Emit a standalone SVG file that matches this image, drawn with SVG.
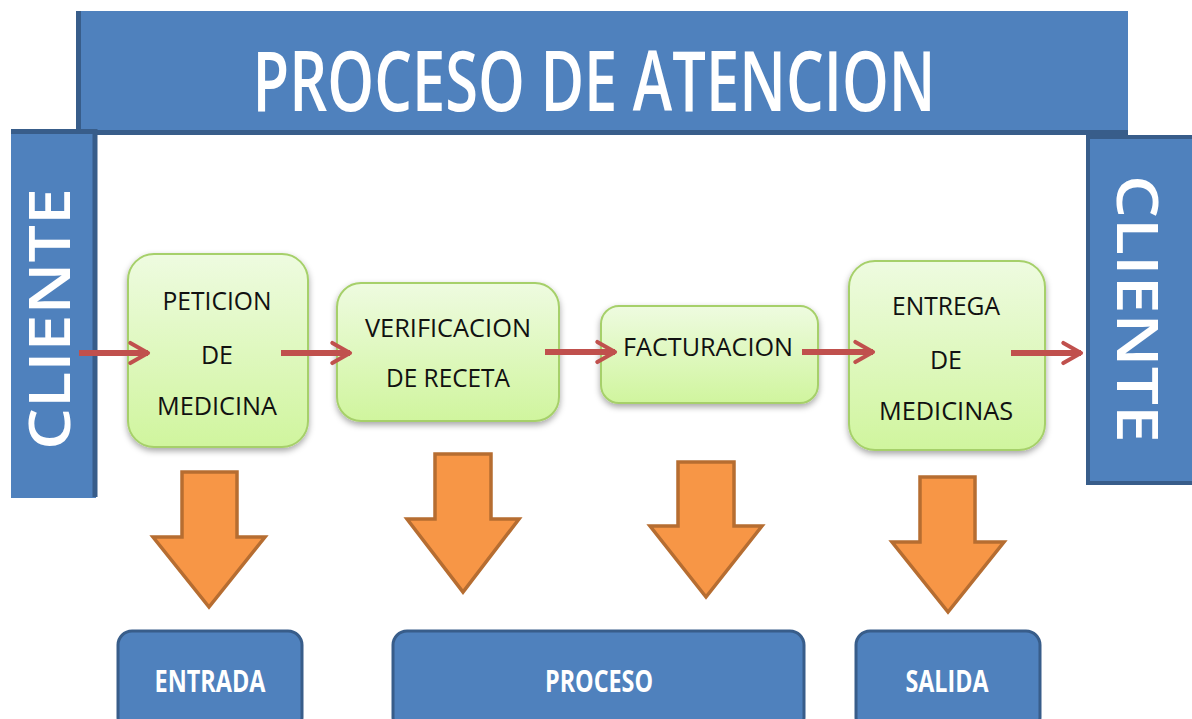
<svg xmlns="http://www.w3.org/2000/svg" width="1192" height="719" viewBox="0 0 1192 719">
<defs>
<linearGradient id="gg" x1="0" y1="0" x2="0" y2="1">
<stop offset="0" stop-color="#EEFBE0"/>
<stop offset="1" stop-color="#D0F59E"/>
</linearGradient>
<filter id="sh" x="-20%" y="-20%" width="140%" height="140%">
<feDropShadow dx="0" dy="3" stdDeviation="3" flood-color="#000" flood-opacity="0.35"/>
</filter>
<marker id="ah" viewBox="0 0 10 10" refX="8" refY="5" markerWidth="4.2" markerHeight="4.8" orient="auto" markerUnits="strokeWidth">
<path d="M1,1 L8,5 L1,9" fill="none" stroke="#C0504D" stroke-width="1.6" stroke-linecap="round" stroke-linejoin="round"/>
</marker>
</defs>
<style>
.blue{fill:#4F81BD;stroke:#385D8A;stroke-width:3}
.green{fill:url(#gg);stroke:#A6D06A;stroke-width:2;filter:url(#sh)}
.orange{fill:#F79646;stroke:#B66D31;stroke-width:3.5;stroke-linejoin:miter}
.red{stroke:#C0504D;stroke-width:6;fill:none;marker-end:url(#ah)}
.wt{fill:#fff;font-family:"Open Sans","Noto Sans",sans-serif}
.bt{fill:#fff;font-family:"Open Sans","Noto Sans",sans-serif;font-weight:bold;font-size:30px;text-anchor:middle}
.gt{fill:#111;font-family:"Open Sans","Noto Sans",sans-serif;font-size:25px;text-anchor:middle}
</style>
<rect width="1192" height="719" fill="#fff"/>

<g id="title">
<rect x="77" y="11" width="1051" height="123" fill="#4F81BD"/>
<path d="M78.5,11 V132.5 H1128" fill="none" stroke="#385D8A" stroke-width="5"/>
<text class="wt" transform="translate(594,111) scale(1,1.4)" x="0" y="0" font-size="60" font-weight="600" text-anchor="middle" textLength="683" lengthAdjust="spacingAndGlyphs">PROCESO DE ATENCION</text>
</g>

<g id="cliente-left">
<rect x="11" y="132" width="85" height="366" fill="#4F81BD"/>
<path d="M11,131.5 H95 V497" fill="none" stroke="#385D8A" stroke-width="5"/>
<text class="wt" transform="translate(70,319) rotate(-90)" x="0" y="0" font-size="58" font-weight="600" text-anchor="middle" textLength="262" lengthAdjust="spacingAndGlyphs">CLIENTE</text>
</g>

<g id="cliente-right">
<rect x="1088" y="137" width="110" height="346" fill="#4F81BD" stroke="#385D8A" stroke-width="4"/>
<text class="wt" transform="translate(1117,309) rotate(90)" x="0" y="0" font-size="58" font-weight="600" text-anchor="middle" textLength="268" lengthAdjust="spacingAndGlyphs">CLIENTE</text>
</g>

<g id="peticion">
<rect class="green" x="128" y="254" width="180" height="193" rx="26"/>
<text class="gt" x="217" y="310" textLength="109" lengthAdjust="spacingAndGlyphs">PETICION</text>
<text class="gt" x="217" y="364">DE</text>
<text class="gt" x="217" y="415" textLength="120" lengthAdjust="spacingAndGlyphs">MEDICINA</text>
</g>

<g id="verificacion">
<rect class="green" x="337" y="283" width="222" height="138" rx="24"/>
<text class="gt" x="448" y="337" textLength="166" lengthAdjust="spacingAndGlyphs">VERIFICACION</text>
<text class="gt" x="448" y="387" textLength="124" lengthAdjust="spacingAndGlyphs">DE RECETA</text>
</g>

<g id="facturacion">
<rect class="green" x="601" y="306" width="217" height="97" rx="18"/>
<text class="gt" x="708" y="356" textLength="170" lengthAdjust="spacingAndGlyphs">FACTURACION</text>
</g>

<g id="entrega">
<rect class="green" x="849" y="261" width="196" height="189" rx="26"/>
<text class="gt" x="946" y="315" textLength="108" lengthAdjust="spacingAndGlyphs">ENTREGA</text>
<text class="gt" x="946" y="369">DE</text>
<text class="gt" x="946" y="420" textLength="134" lengthAdjust="spacingAndGlyphs">MEDICINAS</text>
</g>

<g id="connectors">
<line class="red" x1="79" y1="353" x2="148" y2="353"/>
<line class="red" x1="281" y1="353" x2="350" y2="353"/>
<line class="red" x1="545" y1="352" x2="615" y2="352"/>
<line class="red" x1="802" y1="352" x2="873" y2="352"/>
<line class="red" x1="1011" y1="353" x2="1081" y2="353"/>
</g>

<g id="down-arrows">
<polygon class="orange" points="182,472 237,472 237,537 265,537 209,607 153,537 182,537"/>
<polygon class="orange" points="435,454 491,454 491,519 519,519 463,592 407,519 435,519"/>
<polygon class="orange" points="678,462 734,462 734,526 762,526 706,597 650,526 678,526"/>
<polygon class="orange" points="920,477 975,477 975,542 1004,542 948,612 892,542 920,542"/>
</g>

<g id="entrada">
<rect class="blue" x="118" y="631" width="184" height="100" rx="14"/>
<text class="bt" x="210" y="692" textLength="111" lengthAdjust="spacingAndGlyphs">ENTRADA</text>
</g>

<g id="proceso">
<rect class="blue" x="393" y="631" width="411" height="100" rx="14"/>
<text class="bt" x="599" y="692" textLength="108" lengthAdjust="spacingAndGlyphs">PROCESO</text>
</g>

<g id="salida">
<rect class="blue" x="856" y="631" width="184" height="100" rx="14"/>
<text class="bt" x="947" y="692" textLength="83" lengthAdjust="spacingAndGlyphs">SALIDA</text>
</g>
</svg>
